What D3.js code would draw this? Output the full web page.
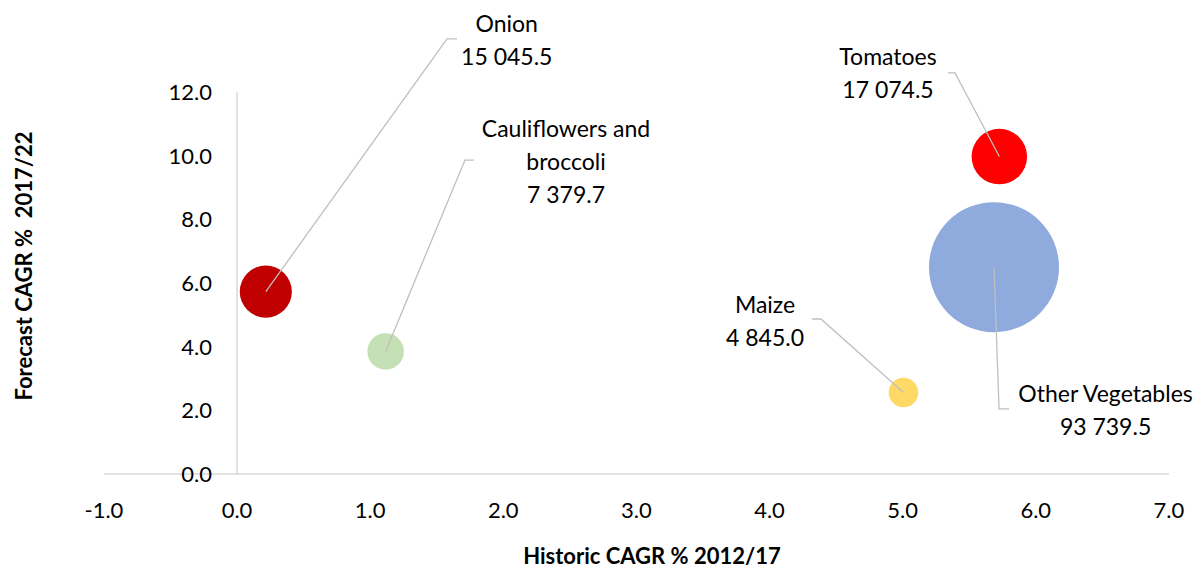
<!DOCTYPE html>
<meta charset="utf-8">
<style>

body { margin: 0; background: #fff; }

text { font-family: Lato, "Open Sans", sans-serif; fill: #000; }

.axis path { stroke: #d9d9d9; stroke-width: 1.5; }
.axis line { display: none; }
.axis text { font-size: 22px; font-family: Lato, "Open Sans", sans-serif; fill: #000; }

.lbl { font-size: 23px; }

.title { font-size: 22px; font-weight: bold; white-space: pre; }

.leader {
  stroke: #bfbfbf;
  stroke-width: 1.3;
  fill: none;
}

</style>
<body>

<script src="https://cdn.jsdelivr.net/npm/d3@7"></script>

<script>

// chart data
var names     = ["Onion", "Cauliflowers and broccoli", "Tomatoes", "Other Vegetables", "Maize"];
var historic  = [0.22, 1.12, 5.73, 5.69, 5.01];   // x, Historic CAGR % 2012/17
var forecast  = [5.72, 3.84, 9.97, 6.49, 2.55];   // y, Forecast CAGR % 2017/22
var sales     = [15045.5, 7379.7, 17074.5, 93739.5, 4845.0];  // bubble size
var colors    = ["#c00000", "#c5e0b4", "#ff0000", "#8faadc", "#ffd966"];

var xTicks = [-1, 0, 1, 2, 3, 4, 5, 6, 7];
var yTicks = [0, 2, 4, 6, 8, 10, 12];

// label text lines (name part)
var nameLines = [["Onion"], ["Cauliflowers and", "broccoli"], ["Tomatoes"], ["Other Vegetables"], ["Maize"]];

// label placement, in axis units
var labelX = [2.03, 2.475, 4.894, 6.528, 3.97];
var labelY = [14.155, 10.84, 13.10, 2.50, 5.30];
// leader line: tick end near label, then elbow, then bubble centre
var tickEndX = [1.656, 1.784, 5.345, 5.803, 4.323];
var elbowX   = [1.581, 1.716, 5.397, 5.728, 4.390];
var elbowY   = [13.67, 9.86, 12.60, 2.03, 4.86];

var width = 1199, height = 573;

var x = d3.scaleLinear().domain([-1, 7]).range([103.4, 1168.4]);
var y = d3.scaleLinear().domain([0, 12]).range([473.5, 92]);
var r = d3.scaleSqrt().domain([0, 93739.5]).range([0, 65]);

var fmt = d3.formatLocale({decimal: ".", thousands: " ", grouping: [3], currency: ["", ""], minus: "-"}).format(",.1f");
var tickFmt = function(d) { return d.toFixed(1); };

var svg = d3.select("body")
  .append("svg")
    .attr("width", width)
    .attr("height", height);

var xAxis = d3.axisBottom(x)
  .tickValues(xTicks)
  .tickSize(0)
  .tickSizeOuter(0)
  .tickFormat(tickFmt);

var yAxis = d3.axisLeft(y)
  .tickValues(yTicks)
  .tickSize(0)
  .tickSizeOuter(0)
  .tickFormat(tickFmt);

var gx = svg.append("g")
  .attr("class", "x axis")
  .attr("transform", "translate(0," + y(0) + ")")
  .call(xAxis);
gx.selectAll("text")
  .attr("y", 37)
  .attr("dy", "0.35em");

var gy = svg.append("g")
  .attr("class", "y axis")
  .attr("transform", "translate(" + x(0) + ",0)")
  .call(yAxis);
gy.selectAll("text")
  .attr("x", -24.5)
  .attr("dy", "0.35em");

var idx = d3.range(names.length);

// bubbles, larger first
svg.selectAll(".bubble")
  .data(idx.slice().sort(function(a, b) { return sales[b] - sales[a]; }))
  .enter().append("circle")
  .attr("class", "bubble")
  .attr("cx", function(i) { return x(historic[i]); })
  .attr("cy", function(i) { return y(forecast[i]); })
  .attr("r", function(i) { return r(sales[i]); })
  .attr("fill", function(i) { return colors[i]; });

// leader lines, on top of bubbles
svg.selectAll(".leader")
  .data(idx)
  .enter().append("polyline")
  .attr("class", "leader")
  .attr("points", function(i) {
    return [
      [x(tickEndX[i]), y(elbowY[i])],
      [x(elbowX[i]), y(elbowY[i])],
      [x(historic[i]), y(forecast[i])]
    ].join(" ");
  });

// data labels
var lineH = 33;
idx.forEach(function(i) {
  var lines = nameLines[i].concat([fmt(sales[i])]);
  var t = svg.append("text")
    .attr("class", "lbl")
    .attr("text-anchor", "middle")
    .attr("x", x(labelX[i]))
    .attr("y", y(labelY[i]));
  lines.forEach(function(s, k) {
    t.append("tspan")
      .attr("x", x(labelX[i]))
      .attr("y", y(labelY[i]) + k * lineH)
      .attr("dy", "0.35em")
      .text(s);
  });
});

// axis titles
svg.append("text")
  .attr("class", "title")
  .attr("text-anchor", "middle")
  .attr("x", 652)
  .attr("y", 556)
  .attr("dy", "0.35em")
  .text("Historic CAGR % 2012/17");

svg.append("text")
  .attr("class", "title")
  .attr("text-anchor", "middle")
  .attr("transform", "translate(24,266) rotate(-90)")
  .attr("dy", "0.35em")
  .text("Forecast CAGR %  2017/22");

</script>
</body>
